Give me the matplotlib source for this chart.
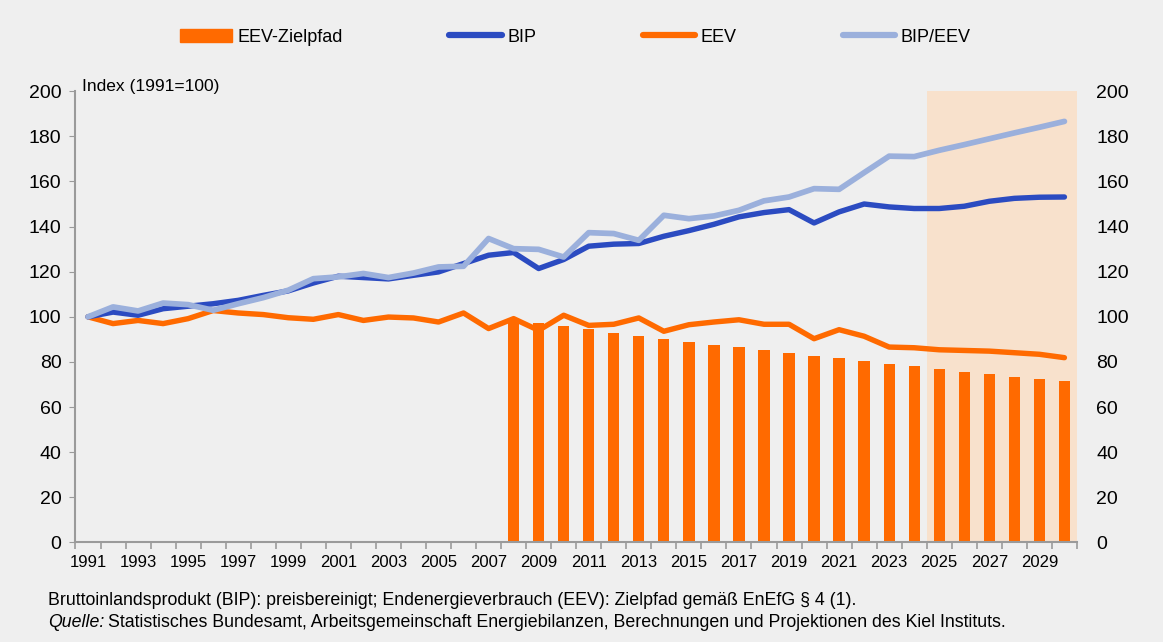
import numpy as np
import matplotlib
matplotlib.use("Agg")
import matplotlib.pyplot as plt
from matplotlib.patches import Patch
from matplotlib.lines import Line2D

# Daten (Index 1991=100)
jahre = list(range(1991, 2031))
bip = [100, 102.1, 100.7, 103.6, 104.7, 105.8, 107.3, 109.5, 111.5, 115.0,
       118.0, 117.4, 116.8, 118.4, 119.9, 123.6, 127.3, 128.5, 121.4, 125.4,
       131.3, 132.2, 132.5, 135.7, 138.2, 141.0, 144.3, 146.2, 147.5, 141.6,
       146.5, 150.0, 148.7, 148.0, 148.0, 149.0, 151.2, 152.5, 153.0, 153.1]
eev = [100, 97.0, 98.4, 97.0, 99.2, 102.8, 101.7, 101.0, 99.6, 98.9,
       101.0, 98.4, 99.9, 99.5, 97.7, 101.7, 94.8, 99.2, 94.0, 100.7,
       96.2, 96.7, 99.5, 93.6, 96.5, 97.7, 98.7, 96.7, 96.7, 90.3,
       94.3, 91.4, 86.6, 86.3, 85.4, 85.1, 84.8, 84.1, 83.4, 81.9]
bip_eev = [100, 104.4, 102.6, 106.1, 105.4, 102.9, 105.8, 108.5, 111.8, 116.9,
           117.7, 119.2, 117.4, 119.4, 122.1, 122.4, 134.7, 130.2, 129.9, 126.5,
           137.3, 136.9, 133.9, 145.0, 143.5, 144.7, 147.2, 151.4, 153.1, 156.8,
           156.5, 163.9, 171.2, 171.0, 173.8, 176.3, 178.9, 181.5, 184.0, 186.6]
ziel_jahre = list(range(2008, 2031))
ziel = [99.0, 97.2, 95.8, 94.4, 93.0, 91.6, 90.3, 89.0, 87.7, 86.5, 85.2, 84.0,
        82.8, 81.6, 80.4, 79.2, 78.0, 76.9, 75.7, 74.6, 73.5, 72.4, 71.4]

plt.rcParams['font.family'] = ['Liberation Sans', 'DejaVu Sans']

hg = "#EFEFEF"
orange = "#FF6A00"
dunkelblau = "#2B4BC1"
hellblau = "#9BB0DC"
grau = "#9A9A9A"

fig = plt.figure(figsize=(11.63, 6.42), dpi=100, facecolor=hg)
ax = fig.add_axes([0.0649, 0.155, 0.8611, 0.703])
ax.set_facecolor(hg)

ax.axvspan(2024.5, 2030.5, color="#F8E1CC", zorder=0, lw=0)
ax.bar(ziel_jahre, ziel, width=0.45, color=orange, zorder=2)
ax.plot(jahre, eev, color=orange, lw=3.9, zorder=3, solid_capstyle="round")
ax.plot(jahre, bip, color=dunkelblau, lw=3.9, zorder=4, solid_capstyle="round")
ax.plot(jahre, bip_eev, color=hellblau, lw=4.1, zorder=5, solid_capstyle="round")

ax.set_xlim(1990.5, 2030.5)
ax.set_ylim(0, 200)
ax.set_yticks(range(0, 201, 20))
ax.tick_params(axis="y", labelsize=14, length=4, color=grau, pad=6)
# Striche an den Jahresgrenzen, Beschriftung jedes zweite Jahr mittig
ax.set_xticks(np.arange(1990.5, 2031, 1))
ax.set_xticklabels([])
ax.tick_params(axis="x", which="major", length=5, color=grau, width=1.2)
ax.set_xticks(jahre[::2], minor=True)
ax.set_xticklabels([str(j) for j in jahre[::2]], minor=True)
ax.tick_params(axis="x", which="minor", length=0, labelsize=12, pad=9)

for s in ["top", "right"]:
    ax.spines[s].set_visible(False)
for s in ["left", "bottom"]:
    ax.spines[s].set_color(grau)
    ax.spines[s].set_linewidth(1.5)

ax2 = ax.twinx()
ax2.set_ylim(0, 200)
ax2.set_yticks(range(0, 201, 20))
ax2.tick_params(axis="y", labelsize=14, length=0, pad=14)
for s in ax2.spines.values():
    s.set_visible(False)

fig.text(0.0705, 0.866, "Index (1991=100)", fontsize=12.5, va="center")

handles = [Patch(color=orange),
           Line2D([], [], color=dunkelblau, lw=4.5, solid_capstyle="round"),
           Line2D([], [], color=orange, lw=4.5, solid_capstyle="round"),
           Line2D([], [], color=hellblau, lw=4.5, solid_capstyle="round")]
fig.legend(handles, ["EEV-Zielpfad", "BIP", "EEV", "BIP/EEV"], ncol=4,
           loc="center", bbox_to_anchor=(0.4945, 0.942), frameon=False,
           fontsize=13, handlelength=2.9, handleheight=0.7, handletextpad=0.3,
           columnspacing=5.9)

fig.text(0.0413, 0.0654,
         "Bruttoinlandsprodukt (BIP): preisbereinigt; Endenergieverbrauch (EEV): Zielpfad gemäß EnEfG § 4 (1).",
         fontsize=12.8, va="center")
q = fig.text(0.0413, 0.031, "Quelle:", fontsize=12.8, va="center", style="italic")
fig.canvas.draw()
bb = q.get_window_extent()
x2 = (bb.x1 + 4) / fig.bbox.width
fig.text(x2, 0.031,
         "Statistisches Bundesamt, Arbeitsgemeinschaft Energiebilanzen, Berechnungen und Projektionen des Kiel Instituts.",
         fontsize=12.8, va="center")

fig.savefig("out.png", dpi=100, facecolor=hg)
